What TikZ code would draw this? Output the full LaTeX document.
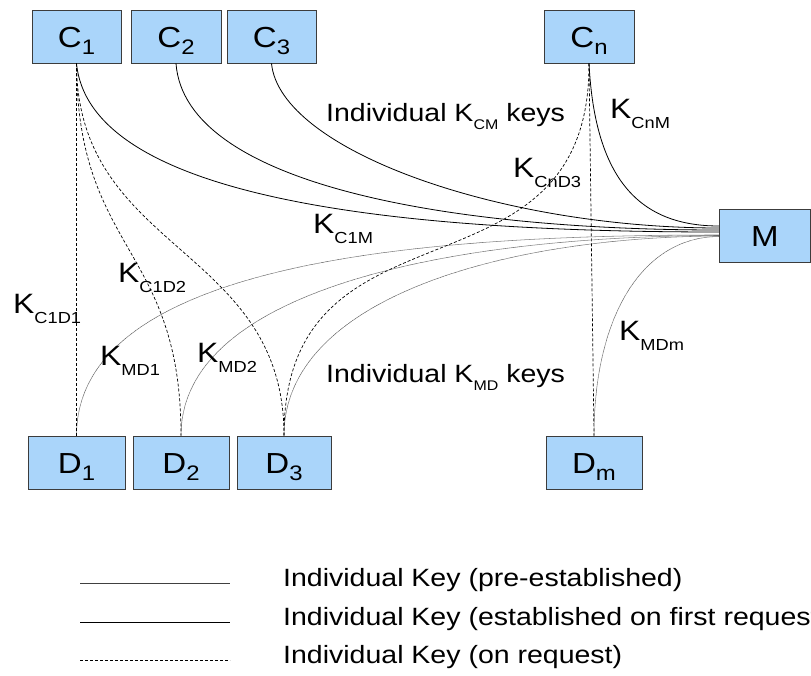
\documentclass[tikz,border=0pt]{standalone}
\usepackage{fontspec}
\setmainfont{Liberation Sans}[FakeStretch=1.14]
\definecolor{boxblue}{RGB}{170,213,250}
\definecolor{boxedge}{RGB}{60,60,60}
% lowered subscripts in text: box labels, key labels, headings
\newcommand{\bsub}[1]{\raisebox{-7pt}{\fontsize{21}{21}\selectfont #1}}
\newcommand{\ksub}[1]{\raisebox{-10pt}{\fontsize{16}{16}\selectfont #1}}
\newcommand{\hsub}[1]{\raisebox{-8pt}{\fontsize{14}{14}\selectfont #1}}
\tikzset{
  entity/.style={draw=boxedge, fill=boxblue, line width=0.9pt, inner sep=0pt,
    minimum height=53pt, text height=21pt, text depth=0pt,
    font=\fontsize{29}{29}\selectfont},
  keylabel/.style={inner sep=0pt, anchor=base west, font=\fontsize{28}{28}\selectfont},
  heading/.style={inner sep=0pt, anchor=base west, font=\fontsize{25}{25}\selectfont},
  legendtext/.style={inner sep=0pt, anchor=base west, font=\fontsize{25}{25}\selectfont},
  firstreq/.style={draw=black, line width=0.8pt},
  preest/.style={draw=black!75, line width=0.55pt, dash pattern=on 0.5pt off 0.5pt},
  onreq/.style={draw=black, line width=0.7pt, dash pattern=on 3pt off 2pt}
}
\begin{document}
\begin{tikzpicture}[x=1pt, y=-1pt]
\useasboundingbox (0,0) rectangle (811,675);

% entities
\node[entity, minimum width=89pt] (C1) at (76.5,36.5) {C\bsub{1}};
\node[entity, minimum width=90pt] (C2) at (176,36.5) {C\bsub{2}};
\node[entity, minimum width=89pt] (C3) at (271.5,36.5) {C\bsub{3}};
\node[entity, minimum width=90pt] (Cn) at (589,36.5) {C\bsub{n}};
\node[entity, minimum width=91pt] (M) at (765,235.5) {M};
\node[entity, minimum width=97pt] (D1) at (76.5,462.5) {D\bsub{1}};
\node[entity, minimum width=96pt] (D2) at (181,462.5) {D\bsub{2}};
\node[entity, minimum width=94pt] (D3) at (284,462.5) {D\bsub{3}};
\node[entity, minimum width=96pt] (Dm) at (594,462.5) {D\bsub{m}};

% keys established on first request (C -> M)
\draw[firstreq] (C1.south) .. controls (90,200) and (400,232) .. ([yshift=3.5pt]M.west);
\draw[firstreq] (C2.south) .. controls (185,185) and (450,230) .. ([yshift=5.5pt]M.west);
\draw[firstreq] (C3.south) .. controls (280,150) and (500,228) .. ([yshift=7.5pt]M.west);
\draw[firstreq] (Cn.south) .. controls (595,180) and (640,226) .. ([yshift=9.5pt]M.west);

% pre-established keys (M -> D)
\draw[preest] ([yshift=0.5pt]M.west) .. controls (450,235) and (77,255) .. (D1.north);
\draw[preest] ([yshift=0pt]M.west) .. controls (450,236) and (181,290) .. (D2.north);
\draw[preest] ([yshift=-0.5pt]M.west) .. controls (500,237) and (284,300) .. (D3.north);
\draw[preest] ([yshift=-1pt]M.west) .. controls (640,237) and (594,320) .. (Dm.north);

% keys on request (C -> D)
\draw[onreq] (C1.south) -- (D1.north);
\draw[onreq] (C1.south) .. controls (77,253) and (181,246) .. (D2.north);
\draw[onreq] (C1.south) .. controls (77,253) and (284,246) .. (D3.north);
\draw[onreq] (Cn.south) .. controls (590,313) and (284,186) .. (D3.north);
\draw[onreq] (Cn.south) -- (Dm.north);

% labels
\node[heading] (hcm) at (326,121) {Individual K\hsub{CM} keys};
\node[heading] (hmd) at (326,382) {Individual K\hsub{MD} keys};
\node[keylabel] (kcnm) at (610,118) {K\ksub{CnM}};
\node[keylabel] (kcnd3) at (513,177) {K\ksub{CnD3}};
\node[keylabel] (kc1m) at (313,233) {K\ksub{C1M}};
\node[keylabel] (kc1d2) at (118,282) {K\ksub{C1D2}};
\node[keylabel] (kc1d1) at (13,313) {K\ksub{C1D1}};
\node[keylabel] (kmd1) at (100,365) {K\ksub{MD1}};
\node[keylabel] (kmd2) at (197,362) {K\ksub{MD2}};
\node[keylabel] (kmdm) at (619,340) {K\ksub{MDm}};

% legend
\coordinate (la1) at (80,583);  \coordinate (lb1) at (230,583);
\coordinate (la2) at (80,622);  \coordinate (lb2) at (230,622);
\coordinate (la3) at (80,660);  \coordinate (lb3) at (230,660);
\draw[preest] (la1) -- (lb1);
\draw[firstreq] (la2) -- (lb2);
\draw[onreq] (la3) -- (lb3);
\node[legendtext] (t1) at (283,586) {Individual Key (pre-established)};
\node[legendtext] (t2) at (283,625) {Individual Key (established on first request)};
\node[legendtext] (t3) at (283,663) {Individual Key (on request)};
\end{tikzpicture}
\end{document}
